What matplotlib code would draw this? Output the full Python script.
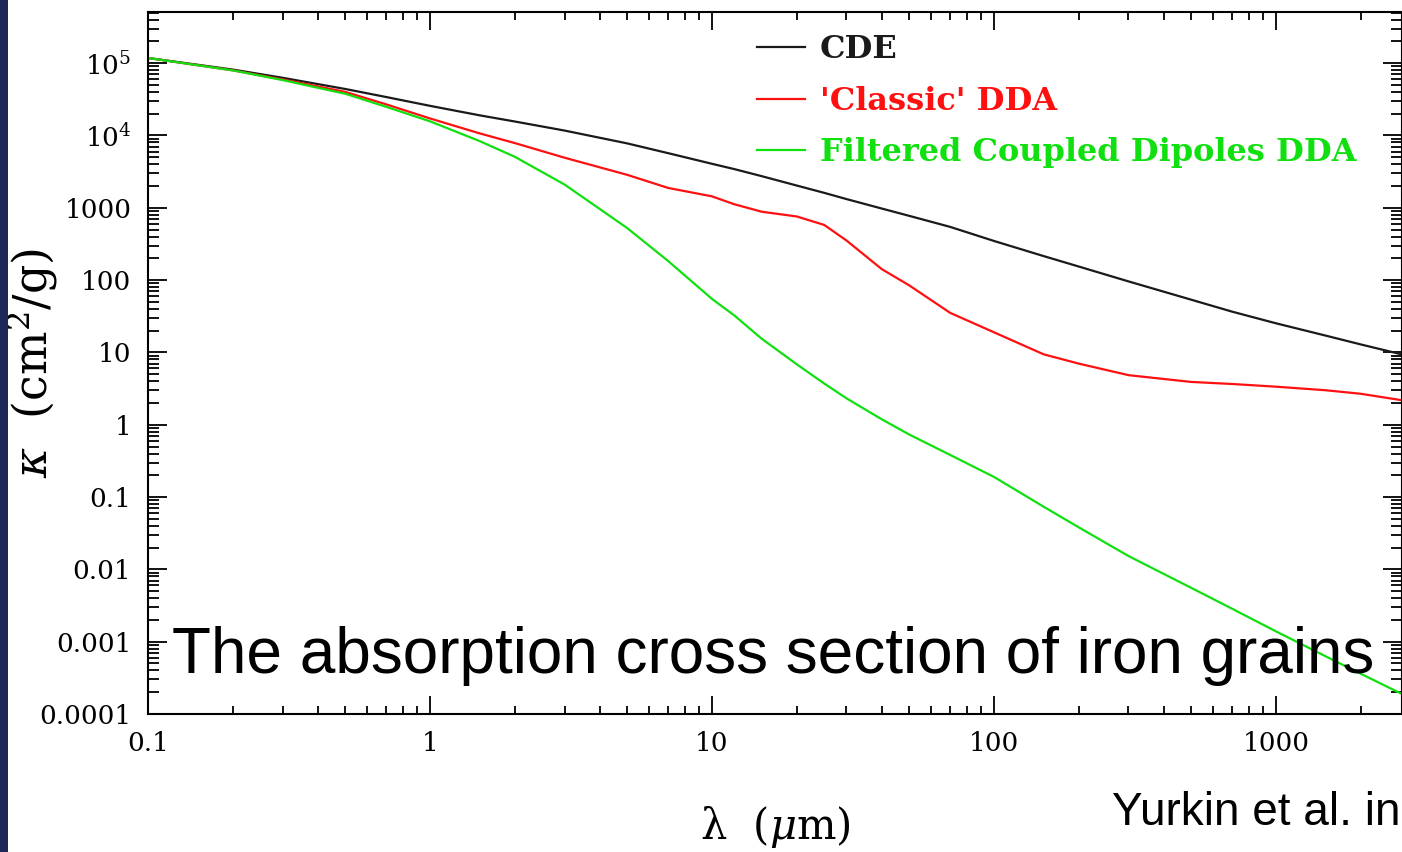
import matplotlib.pyplot as plt
from matplotlib.patches import Rectangle
from matplotlib.ticker import LogLocator, NullFormatter

plt.rcParams.update({'font.family': 'DejaVu Serif', 'mathtext.fontset': 'dejavuserif'})

# wavelength grid (micron) and mass absorption coefficient kappa (cm^2/g)
wavelength = [0.1, 0.2, 0.3, 0.5, 0.7, 1, 1.5, 2, 3, 5, 7, 10, 12, 15, 20, 25, 30, 40, 50,
              70, 100, 150, 200, 300, 500, 700, 1000, 1500, 2000, 2800]

kappa_cde = [1.18e5, 8.15e4, 6.28e4, 4.40e4, 3.40e4, 2.57e4, 1.90e4, 1.56e4, 1.17e4, 7.78e3,
             5.69e3, 4.06e3, 3.43e3, 2.74e3, 2.03e3, 1.61e3, 1.32e3, 977, 775,
             544, 348, 215, 154, 96, 53.7, 36.6, 25.3, 17.1, 12.9, 9.38]

kappa_classic = [1.18e5, 7.95e4, 5.97e4, 4.01e4, 2.69e4, 1.72e4, 1.07e4, 7.85e3, 4.93e3, 2.86e3,
                 1.88e3, 1.44e3, 1.12e3, 883, 758, 580, 353, 142, 84.9,
                 35.2, 19.0, 9.42, 7.00, 4.85, 3.91, 3.66, 3.36, 3.00, 2.68, 2.18]

kappa_fcd = [1.18e5, 7.95e4, 5.84e4, 3.78e4, 2.49e4, 1.57e4, 8.37e3, 5.07e3, 2.10e3, 526,
             183, 55, 32.5, 15.5, 6.84, 3.72, 2.32, 1.19, 0.735,
             0.382, 0.190, 0.0736, 0.0381, 0.0153, 5.57e-3, 2.85e-3, 1.39e-3, 6.28e-4, 3.60e-4, 1.89e-4]

series_labels = ['CDE', "'Classic' DDA", 'Filtered Coupled Dipoles DDA']

xtick_values = [0.1, 1, 10, 100, 1000]
xtick_labels = ['0.1', '1', '10', '100', '1000']
ytick_values = [1e-4, 1e-3, 1e-2, 0.1, 1, 10, 100, 1000, 1e4, 1e5]
ytick_labels = ['0.0001', '0.001', '0.01', '0.1', '1', '10', '100', '1000', r'$10^4$', r'$10^5$']

W, H = 1402, 852
fig = plt.figure(figsize=(W / 100, H / 100), dpi=100)
ax = fig.add_axes([148 / W, 138 / H, 1254 / W, 702 / H])

ax.plot(wavelength, kappa_cde, color='#1a1a1a', lw=1.6, label=series_labels[0])
ax.plot(wavelength, kappa_classic, color='#ff1010', lw=1.6, label=series_labels[1])
ax.plot(wavelength, kappa_fcd, color='#10e010', lw=1.6, label=series_labels[2])

ax.set_xscale('log')
ax.set_yscale('log')
ax.set_xlim(0.1, 2800)
ax.set_ylim(1e-4, 5.1e5)

ax.set_xticks(xtick_values)
ax.set_xticklabels(xtick_labels)
ax.set_yticks(ytick_values)
ax.set_yticklabels(ytick_labels)
ax.xaxis.set_minor_locator(LogLocator(base=10, subs=range(2, 10), numticks=20))
ax.yaxis.set_minor_locator(LogLocator(base=10, subs=range(2, 10), numticks=20))
ax.xaxis.set_minor_formatter(NullFormatter())
ax.yaxis.set_minor_formatter(NullFormatter())

ax.tick_params(which='both', direction='in', top=True, right=True, width=1.3, labelsize=19)
ax.tick_params(axis='x', which='major', length=13, pad=12)
ax.tick_params(axis='y', which='major', length=14, pad=12)
ax.tick_params(axis='x', which='minor', length=6)
ax.tick_params(axis='y', which='minor', length=8)
for s in ax.spines.values():
    s.set_linewidth(1.5)

ax.set_xlabel(r'λ  ($\mu$m)', fontsize=30)
ax.xaxis.set_label_coords(0.5, -0.128)
ax.set_ylabel(r'$\kappa$  (cm$^2$/g)', fontsize=33)
ax.yaxis.set_label_coords(-0.07, 0.5)

leg = ax.legend(loc='upper left', bbox_to_anchor=(0.486, 0.968), frameon=False,
                borderpad=0, borderaxespad=0, handlelength=1.5, handletextpad=0.45,
                labelspacing=0.64, labelcolor='linecolor',
                prop={'family': 'DejaVu Serif', 'size': 23, 'weight': 'bold'})

# slide annotations on top of the plot
fig.text(172 / W, 1 - 673 / H, 'The absorption cross section of iron grains',
         family='Liberation Sans', fontsize=46, va='baseline', ha='left')
fig.text(1112 / W, 1 - 825 / H, 'Yurkin et al. in',
         family='Liberation Sans', fontsize=33, va='baseline', ha='left')

# dark strip along the left edge of the slide
fig.add_artist(Rectangle((0, 0), 8 / W, 1, transform=fig.transFigure,
                         facecolor='#1c2858', edgecolor='none'))

fig.savefig('out.png', dpi=100)
